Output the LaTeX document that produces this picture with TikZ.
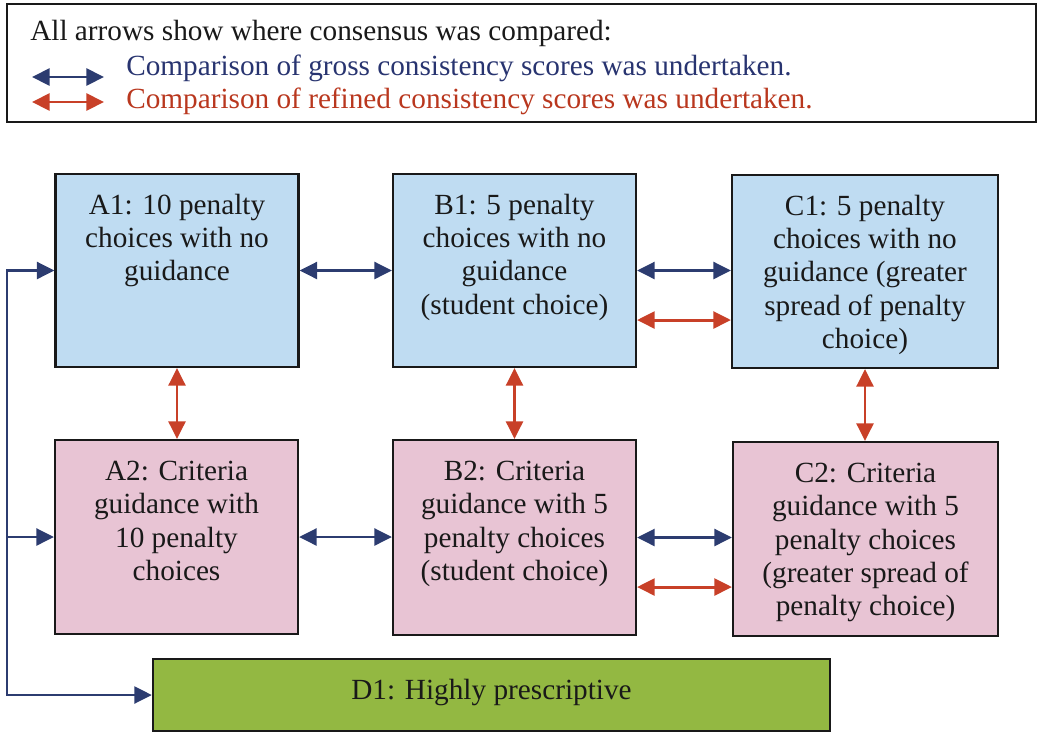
\documentclass[tikz,border=0pt]{standalone}
\usepackage{fontspec}
\setmainfont{Liberation Serif}
\usetikzlibrary{arrows.meta}

\definecolor{boxblue}{RGB}{191,220,242}
\definecolor{boxpink}{RGB}{232,196,212}
\definecolor{boxgreen}{RGB}{147,184,66}
\definecolor{grossblue}{RGB}{44,60,112}
\definecolor{refinedred}{RGB}{200,64,40}
\definecolor{legendblue}{RGB}{40,52,112}
\definecolor{legendred}{RGB}{185,55,30}
\definecolor{ink}{RGB}{25,25,25}

% top-aligned, centred text block of a given width and height
\newcommand{\boxtext}[3]{\parbox[c][#2][t]{#1}{\centering\rule{0pt}{28.5pt}\ignorespaces#3}}

\tikzset{
  stage/.style={draw=ink, line width=1.5pt, inner sep=0pt, text=ink,
    font=\fontsize{20.8pt}{23.8pt}\selectfont},
  nog/.style={stage, fill=boxblue},
  crit/.style={stage, fill=boxpink},
  presc/.style={stage, fill=boxgreen},
  head/.tip={Triangle[length=12.5pt, width=12pt]},
  tip/.style={arrows={head-head}},
  gross/.style={draw=grossblue, line width=2.1pt},
  refined/.style={draw=refinedred, line width=2.1pt},
  legendtext/.style={anchor=base west, inner sep=0pt,
    font=\fontsize{20.8pt}{23.8pt}\selectfont}
}

\begin{document}
\begin{tikzpicture}[x=0.025cm, y=-0.025cm]
  \useasboundingbox (0,0) rectangle (1039,733);

  % legend
  \node[draw=ink, line width=1.5pt, minimum width=25.725cm, minimum height=2.95cm, inner sep=0pt]
    (legend) at (521.5,63) {};
  \node[legendtext, text=ink] (lgtitle) at (30,40) {All arrows show where consensus was compared:};
  \node[legendtext, text=legendblue] (lggross) at (126,75) {Comparison of gross consistency scores was undertaken.};
  \node[legendtext, text=legendred] (lgrefined) at (126,108) {Comparison of refined consistency scores was undertaken.};
  \coordinate (gA) at (32,77);
  \coordinate (gB) at (104,77);
  \coordinate (rA) at (32,102);
  \coordinate (rB) at (104,102);
  \draw[gross, tip] (gA) -- (gB);
  \draw[refined, tip] (rA) -- (rB);

  % no-guidance conditions
  \node[nog] (A1) at (177,270.5) {\boxtext{6.075cm}{4.825cm}{A1: 10 penalty\\choices with no\\guidance}};
  \node[nog] (B1) at (514.5,270.5) {\boxtext{6.075cm}{4.825cm}{B1: 5 penalty\\choices with no\\guidance\\(student choice)}};
  \node[nog] (C1) at (865,271.5) {\boxtext{6.65cm}{4.825cm}{C1: 5 penalty\\choices with no\\guidance (greater\\spread of penalty\\choice)}};

  % criteria guidance conditions
  \node[crit] (A2) at (176.5,537) {\boxtext{6.075cm}{4.85cm}{A2: Criteria\\guidance with\\10 penalty\\choices}};
  \node[crit] (B2) at (514.5,537.5) {\boxtext{6.075cm}{4.875cm}{B2: Criteria\\guidance with 5\\penalty choices\\(student choice)}};
  \node[crit] (C2) at (865.5,539) {\boxtext{6.625cm}{4.85cm}{C2: Criteria\\guidance with 5\\penalty choices\\(greater spread of\\penalty choice)}};

  % prescriptive condition
  \node[presc] (D1) at (491.5,695) {\boxtext{16.925cm}{1.8cm}{D1: Highly prescriptive}};

  % gross comparisons along the rows
  \draw[gross, tip] (A1.east) -- (A1.east -| B1.west);
  \draw[gross, tip] (B1.east) -- (B1.east -| C1.west);
  \draw[gross, tip] (A2.east) -- (A2.east -| B2.west);
  \draw[gross, tip] (B2.east) -- (B2.east -| C2.west);

  % refined comparisons
  \draw[refined, tip] ([yshift=-1.2375cm]B1.east) -- ([yshift=-1.2375cm]B1.east -| C1.west);
  \draw[refined, tip] ([yshift=-1.2375cm]B2.east) -- ([yshift=-1.2375cm]B2.east -| C2.west);
  \draw[refined, tip] (A1.south) -- (A1.south |- A2.north);
  \draw[refined, tip] (B1.south) -- (B1.south |- B2.north);
  \draw[refined, tip] (C1.south) -- (C1.south |- C2.north);

  % left-hand link between A1, A2 and D1
  \coordinate (rail) at (7,0);
  \draw[gross, tip] (A1.west) -- (A1.west -| rail) |- (D1.west);
  \draw[gross, -head] (A2.west -| rail) -- (A2.west);
\end{tikzpicture}
\end{document}
